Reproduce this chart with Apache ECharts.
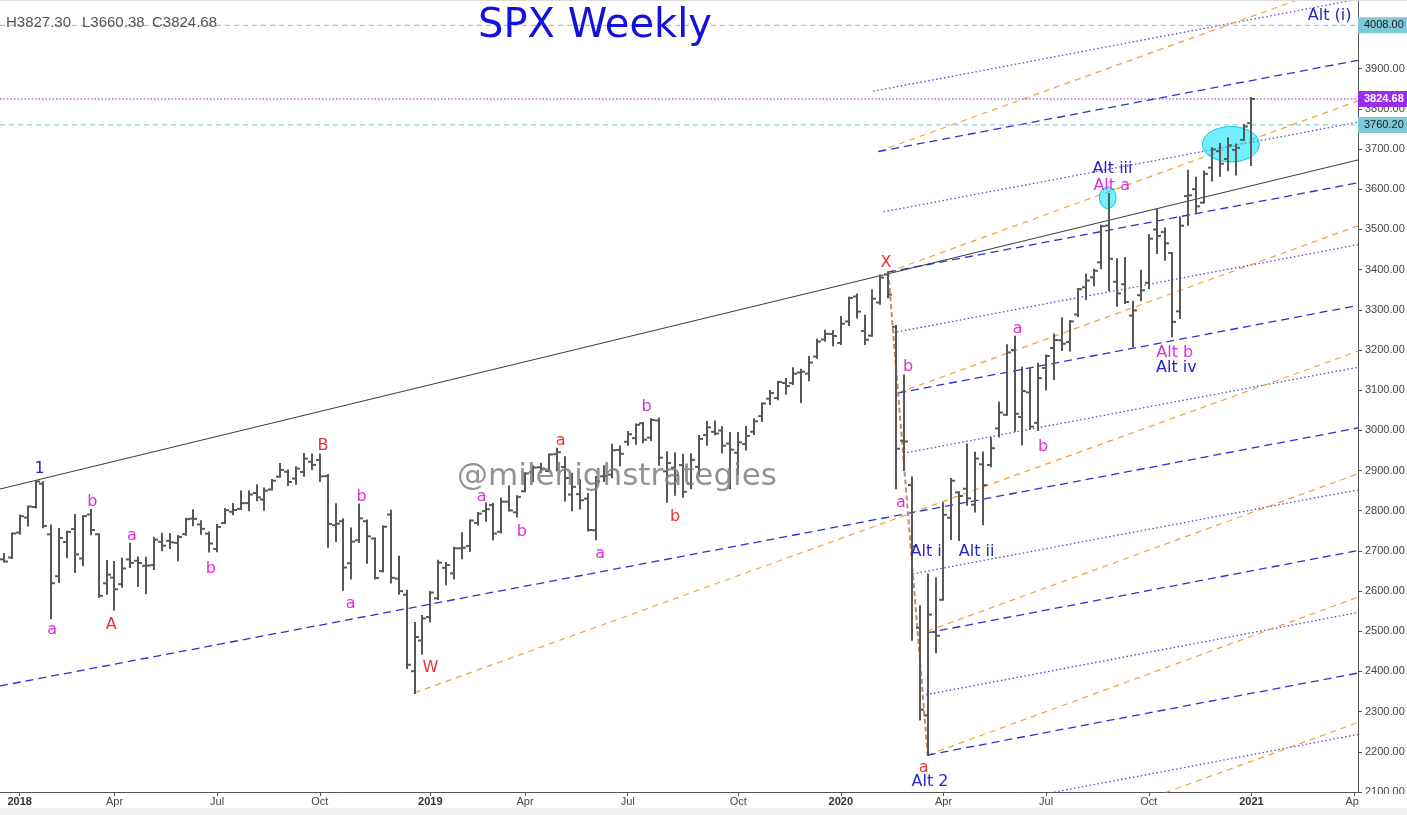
<!DOCTYPE html>
<html><head><meta charset="utf-8">
<script src="https://cdn.jsdelivr.net/npm/echarts@6/dist/echarts.min.js"></script>
<style>html,body{margin:0;padding:0;background:#fff}#c{width:1407px;height:815px}</style>
</head><body><div id="c"></div><script>
// ---------- DATA ----------
const firstWeek = '2017-12-25';   // first category (weekly bars, Monday dates)
const totalWeeks = 172;           // categories on the axis (through 2021-04-05)
const tickDates = ['2018-01-08','2018-04-02','2018-07-02','2018-10-01','2019-01-07','2019-04-01','2019-07-01','2019-10-07','2020-01-06','2020-04-06','2020-07-06','2020-10-05','2021-01-04','2021-04-05'];
const tickTexts = ['2018','Apr','Jul','Oct','2019','Apr','Jul','Oct','2020','Apr','Jul','Oct','2021','Apr'];

const open = [2679.0,
2683.7,2745.6,2783.0,2809.2,2867.2,2741.1,2636.8,2722.0,2754.3,2681.1,2790.5,2741.4,2619.4,2633.5,2617.2,2678.8,2675.4,2663.0,2664.4,2722.7,2725.0,2720.0,2741.7,2780.2,2765.8,2742.9,2704.9,2769.2,2797.4,2804.6,2819.0,2844.1,2827.9,2853.0,2884.7,2896.9,2880.0,2896.5,2921.8,2926.3,2886.0,2763.8,2773.9,2669.3,2726.4,2773.9,2730.7,2649.9,2790.5,2630.9,2590.8,2400.6,2476.9,
2535.6,2582.1,2657.9,2644.0,2706.5,2712.4,2769.3,2799.0,2814.4,2747.6,2822.6,2796.0,2848.6,2896.0,2908.3,2898.8,2940.6,2908.9,2840.2,2841.4,2830.0,2751.5,2885.8,2889.8,2951.4,2971.4,2980.8,3017.8,2981.9,3024.5,2898.1,2907.1,2913.5,2866.7,2909.0,2988.4,2996.4,2999.6,2967.1,2944.2,2965.8,2996.5,3035.4,3078.9,3080.3,3117.9,3117.4,3143.9,3141.2,3183.6,3226.1,3240.1,
3217.6,3271.1,3333.1,3247.2,3235.7,3318.3,3388.0,3257.6,2974.3,2863.9,2508.6,2290.7,2498.1,2578.3,2782.5,2845.6,2854.7,2815.0,2915.5,2913.9,3005.0,3038.8,3199.9,3033.3,3094.4,3018.6,3155.3,3205.1,3224.3,3219.8,3288.3,3356.0,3380.9,3418.1,3509.7,3369.8,3363.6,3285.6,3336.3,3367.3,3500.0,3493.5,3441.4,3296.2,3583.0,3600.2,3566.8,3653.8,3694.7,3675.3,3698.1,3723.0,
3764.61];
const high = [2692.1,
2743.2,2787.9,2810.3,2872.9,2870.6,2763.4,2754.4,2747.8,2789.2,2786.6,2801.9,2741.4,2674.8,2672.1,2680.3,2717.5,2683.6,2682.9,2732.9,2743.0,2742.1,2736.9,2779.9,2801.0,2774.0,2746.1,2764.4,2804.5,2816.8,2848.0,2848.0,2863.4,2855.0,2876.2,2916.5,2900.2,2908.3,2940.9,2939.9,2939.9,2889.0,2816.0,2779.0,2756.0,2815.2,2775.9,2730.7,2760.9,2800.2,2685.4,2601.1,2520.3,2538.1,
2597.8,2675.5,2670.0,2708.0,2744.0,2775.7,2794.2,2818.0,2816.9,2830.7,2860.3,2836.0,2893.4,2910.5,2917.0,2940.0,2954.1,2932.8,2892.2,2876.0,2841.4,2884.0,2910.6,2964.2,2960.0,2995.8,3014.3,3018.0,3027.9,3029.2,2945.5,2943.3,2939.1,2940.4,2985.9,3021.0,3022.0,3007.8,2993.3,2993.3,3008.3,3027.4,3066.9,3097.8,3120.5,3127.6,3154.3,3150.6,3182.7,3225.6,3247.9,3247.0,
3282.0,3329.9,3338.0,3285.0,3347.9,3385.1,3393.5,3259.8,3136.7,2882.6,2562.0,2641.4,2631.1,2818.6,2879.2,2846.0,2965.0,2944.3,2945.0,2980.3,3068.7,3211.7,3233.1,3155.5,3155.0,3165.8,3186.0,3238.3,3279.3,3272.0,3352.0,3387.9,3399.5,3509.4,3588.1,3425.6,3428.9,3320.3,3397.2,3486.2,3550.5,3502.4,3441.4,3529.9,3645.9,3628.5,3644.3,3701.9,3712.4,3726.7,3711.2,3760.20,
3827.30];
const low = [2673.6,
2682.4,2742.7,2763.0,2808.1,2759.1,2532.7,2622.5,2684.0,2647.3,2664.6,2741.4,2585.9,2593.1,2553.8,2610.8,2660.0,2612.7,2594.6,2655.2,2701.9,2707.4,2676.8,2740.0,2764.0,2742.9,2698.7,2698.9,2769.2,2791.5,2804.0,2801.0,2825.8,2802.5,2853.0,2884.7,2864.1,2867.3,2886.9,2903.3,2874.0,2710.5,2724.0,2603.5,2631.5,2722.0,2670.8,2631.1,2649.0,2621.5,2593.5,2408.6,2346.6,2443.9,
2524.6,2580.3,2617.3,2631.5,2681.8,2699.6,2766.0,2775.0,2728.8,2746.0,2800.7,2785.7,2848.6,2873.3,2896.5,2898.0,2900.5,2825.4,2801.4,2805.5,2750.5,2728.8,2873.9,2883.0,2913.0,2964.0,2966.4,2970.1,2976.3,2914.1,2822.1,2840.0,2834.9,2856.0,2891.1,2964.2,2990.0,2945.5,2855.9,2891.6,2952.3,2990.9,3023.2,3065.9,3077.6,3090.8,3115.4,3070.3,3124.6,3180.9,3223.0,3212.0,
3214.6,3262.0,3280.6,3214.6,3235.7,3315.1,3331.0,2855.8,2901.5,2478.9,2280.5,2191.9,2447.5,2578.3,2729.4,2727.1,2815.1,2797.9,2766.6,2910.4,2984.6,3038.8,2999.0,2965.7,3004.0,3001.0,3101.7,3127.7,3200.0,3198.6,3284.5,3327.2,3361.4,3403.3,3349.6,3310.0,3317.0,3209.5,3323.7,3354.5,3441.4,3424.3,3233.9,3279.7,3511.9,3543.8,3566.8,3622.1,3633.4,3647.5,3636.5,3723.0,
3660.38];
const close = [2673.6,
2743.2,2786.2,2810.3,2872.9,2762.1,2619.6,2732.2,2747.3,2691.3,2786.6,2752.0,2588.3,2640.9,2604.5,2656.3,2670.1,2669.9,2663.4,2728.0,2712.9,2721.3,2734.6,2779.0,2779.7,2754.9,2718.4,2759.8,2801.3,2801.8,2818.8,2840.4,2833.3,2850.1,2874.7,2901.5,2871.7,2904.9,2929.7,2914.0,2885.6,2767.1,2767.8,2658.7,2723.1,2781.0,2736.3,2632.6,2760.2,2633.1,2599.9,2416.6,2485.7,2532.0,
2596.3,2670.7,2664.8,2706.5,2707.9,2775.6,2792.7,2803.7,2743.1,2822.5,2800.7,2834.4,2892.7,2907.4,2905.0,2939.9,2945.6,2881.4,2859.5,2826.1,2752.1,2873.3,2886.9,2950.5,2941.8,2990.4,3013.8,2976.6,3025.9,2932.1,2918.7,2888.7,2847.1,2926.5,2978.7,3007.4,2992.1,2961.8,2952.0,2970.3,2986.2,3022.6,3066.9,3093.1,3120.5,3110.3,3141.0,3145.9,3168.8,3221.2,3240.0,3234.9,
3265.4,3329.6,3295.5,3225.5,3327.7,3380.2,3337.8,2954.2,2972.4,2711.0,2304.9,2541.5,2488.7,2789.8,2874.6,2836.7,2830.7,2929.8,2863.7,2955.5,3044.3,3193.9,3041.3,3097.7,3009.1,3130.0,3185.0,3224.7,3215.6,3271.1,3351.3,3372.9,3397.2,3508.0,3426.9,3340.9,3319.5,3298.5,3348.4,3477.1,3483.8,3465.4,3270.0,3509.4,3585.2,3557.5,3638.4,3699.1,3663.5,3709.4,3703.1,3756.1,
3824.68];

const levelTop = 4008.00;          // horizontal level (Alt (i))
// trend lines: [weekIndex, value] end points
const blackTrend = [[-0.5, 2854], [171.5, 3673]];
const brownTrend = [[112, 3393.5], [117, 2191.9]];
const blueDashed = [
  [[110.75, 3694], [171.5, 3921]], [[112, 3394], [171.5, 3616]], [[113.25, 3093], [171.5, 3311]],
  [[-0.5, 2364], [171.5, 3006]], [[116.9, 2496], [171.5, 2701]], [[117, 2192], [171.5, 2396]]];
const orangeDashed = [
  [[110.75, 3694], [171.5, 4126]], [[112, 3394], [171.5, 3820]], [[113.25, 3093], [171.5, 3509]],
  [[52, 2346.6], [171.5, 3197]], [[116.9, 2500], [171.5, 2892]], [[117, 2192], [171.5, 2585]],
  [[118.25, 1892], [171.5, 2273]]];
const blueDotted = [
  [[110.1, 3844], [171.5, 4073]], [[111.4, 3544], [171.5, 3767]], [[112.6, 3243], [171.5, 3462]],
  [[113.9, 2943], [171.5, 3157]], [[115.1, 2643], [171.5, 2852]], [[116.8, 2342], [171.5, 2547]],
  [[117.6, 2042], [171.5, 2243]]];
// highlight ellipses: [centerWeek, centerValue, radiusWeeks, radiusValue]
const ellipses = [[139.8, 3579, 1.05, 27], [155.4, 3712, 3.6, 44]];
// wave labels: [text, weekIndex, value, kind]
const waveLabels = [
  ['1', 4.5, 2904, 'blue'], ['a', 6.1, 2503, 'mag'], ['b', 11.2, 2823, 'mag'], ['A', 13.6, 2516, 'red'],
  ['a', 16.2, 2737, 'mag'], ['b', 26.2, 2655, 'mag'], ['B', 40.4, 2961, 'red'], ['b', 45.3, 2835, 'mag'],
  ['a', 43.9, 2568, 'mag'], ['W', 54.0, 2409, 'red'], ['a', 60.5, 2835, 'mag'], ['b', 65.6, 2748, 'mag'],
  ['a', 70.5, 2974, 'red'], ['b', 81.4, 3059, 'mag'], ['a', 75.5, 2693, 'mag'], ['b', 85.0, 2785, 'red'],
  ['X', 111.7, 3417, 'red'], ['b', 114.5, 3158, 'mag'], ['a', 113.6, 2819, 'mag'],
  ['Alt i', 116.8, 2698, 'blue'], ['Alt ii', 123.2, 2698, 'blue'], ['a', 116.5, 2160, 'red'],
  ['Alt 2', 117.3, 2126, 'blue'], ['a', 128.4, 3252, 'mag'], ['b', 131.6, 2960, 'mag'],
  ['Alt iii', 140.4, 3650, 'blue'], ['Alt a', 140.3, 3608, 'mag'], ['Alt b', 148.3, 3193, 'mag'],
  ['Alt iv', 148.5, 3155, 'blue'], ['Alt (i)', 167.9, 4031, 'blue']];

// ---------- BUILD ----------
const categories = [];
const t0 = Date.parse(firstWeek + 'T00:00:00Z');
for (let i = 0; i < totalWeeks; i++) categories.push(new Date(t0 + i * 7 * 864e5).toISOString().slice(0, 10));
const tickMap = {};
tickDates.forEach((d, i) => tickMap[d] = tickTexts[i]);
const ohlc = open.map((o, i) => [i, o, high[i], low[i], close[i]]);
const last = ohlc.length - 1;
const kindColor = {blue: '#2626cc', mag: '#e02fe0', red: '#e8323a'};
const xMin = -0.5, xMax = totalWeeks - 0.5;

function seg(pts, color, width, type, z) {
  return {type: 'line', xAxisIndex: 1, yAxisIndex: 0, data: pts, symbol: 'none', silent: true,
    animation: false, clip: true, z: z || 2, lineStyle: {color: color, width: width, type: type, opacity: 1}};
}
function level(value, lineColor, lineType, boxColor, textColor, bold) {
  const s = seg([[xMin, value], [xMax, value]], lineColor, 1, lineType, 3);
  s.markPoint = {symbol: 'rect', symbolSize: 0, silent: true, animation: false,
    label: {show: true, position: 'right', distance: 0, formatter: value.toFixed(2), backgroundColor: boxColor,
      color: textColor, fontWeight: bold ? 'bold' : 'normal', fontSize: 11, fontFamily: 'Liberation Sans',
      padding: [3, 6, 2, 6]},
    data: [{coord: [xMax, value]}]};
  return s;
}
const series = [];
blueDotted.forEach(p => series.push(seg(p, '#5a48d6', 1.3, [1.5, 2.5])));
orangeDashed.forEach(p => series.push(seg(p, '#f0a23a', 1.2, [6, 5])));
blueDashed.forEach(p => series.push(seg(p, '#3030d0', 1.3, [8, 5])));
series.push(seg(blackTrend, '#3a3a3a', 1, 'solid'));
series.push(seg(brownTrend, '#b8906a', 2, [5, 3], 4));

// horizontal levels
series.push(level(levelTop, '#7cc0d4', [5, 4], '#7ecad8', '#1a1a1a', false));
series.push(level(high[last - 1], '#7cc0d4', [5, 4], '#7ecad8', '#1a1a1a', false));
series.push(level(close[last], '#8e1ee6', [1.5, 2], '#9a2cf0', '#ffffff', true));

// ellipses
series.push({type: 'custom', xAxisIndex: 1, yAxisIndex: 0, data: ellipses, silent: true, animation: false, z: 3,
  renderItem: (p, api) => {
    const c = api.coord([api.value(0), api.value(1)]);
    const s = api.size([api.value(2), api.value(3)]);
    return {type: 'ellipse', shape: {cx: c[0], cy: c[1], rx: s[0], ry: s[1]},
      style: {fill: 'rgba(0,228,255,0.55)', stroke: 'rgba(0,190,215,0.9)', lineWidth: 1}};
  }});

// OHLC bars
series.push({type: 'custom', xAxisIndex: 1, yAxisIndex: 0, data: ohlc, silent: true, animation: false, z: 5,
  encode: {x: 0, y: [1, 2, 3, 4]},
  renderItem: (p, api) => {
    const x = api.value(0);
    const ph = api.coord([x, api.value(2)]), pl = api.coord([x, api.value(3)]);
    const po = api.coord([x, api.value(1)]), pc = api.coord([x, api.value(4)]);
    const half = api.size([1, 0])[0] * 0.5;
    const cx = Math.round(ph[0]);
    const st = {stroke: '#585858', lineWidth: 2};
    return {type: 'group', children: [
      {type: 'line', shape: {x1: cx, y1: ph[1] - 1, x2: cx, y2: pl[1] + 1}, style: st},
      {type: 'line', shape: {x1: cx - half, y1: po[1], x2: cx, y2: po[1]}, style: st},
      {type: 'line', shape: {x1: cx, y1: pc[1], x2: cx + half, y2: pc[1]}, style: st}]};
  }});

// wave labels
series.push({type: 'custom', xAxisIndex: 1, yAxisIndex: 0, silent: true, animation: false, z: 6,
  data: waveLabels.map(w => [w[1], w[2]]),
  renderItem: (p, api) => {
    const w = waveLabels[p.dataIndex];
    const c = api.coord([api.value(0), api.value(1)]);
    return {type: 'text', x: c[0], y: c[1], style: {text: w[0], fill: kindColor[w[3]],
      font: '16px "DejaVu Sans"', align: 'center', verticalAlign: 'middle'}};
  }});

const option = {
  animation: false,
  backgroundColor: '#ffffff',
  grid: {left: 0, right: 49, top: 0, bottom: 23, containLabel: false, outerBoundsMode: 'none'},
  xAxis: [
    {type: 'category', data: categories, boundaryGap: true, position: 'bottom',
      axisLine: {show: true, onZero: false, lineStyle: {color: '#555', width: 1}},
      axisTick: {show: true, length: 4, alignWithLabel: true, interval: (i, v) => v in tickMap, lineStyle: {color: '#555'}},
      axisLabel: {show: true, margin: 4, interval: (i, v) => v in tickMap,
        formatter: v => { const t = tickMap[v] || ''; return /^\d/.test(t) ? '{y|' + t + '}' : '{m|' + t + '}'; },
        rich: {y: {fontWeight: 'bold', fontSize: 11, color: '#333', fontFamily: 'Liberation Sans'},
               m: {fontSize: 11, color: '#444', fontFamily: 'Liberation Sans'}}},
      splitLine: {show: false}},
    {type: 'value', min: xMin, max: xMax, show: false, axisLine: {onZero: false}, splitLine: {show: false}}
  ],
  yAxis: [{type: 'value', position: 'right', min: 2100, max: 4071, interval: 100, scale: false,
    axisLine: {show: true, onZero: false, lineStyle: {color: '#555', width: 1}},
    axisTick: {show: true, length: 4, lineStyle: {color: '#555'}},
    splitLine: {show: false},
    axisLabel: {show: true, margin: 7, color: '#444', fontSize: 11, fontFamily: 'Liberation Sans',
      formatter: v => (Math.abs(v % 100) < 1e-6 && v <= 3900) ? v.toFixed(2) : ''}}],
  graphic: [
    {type: 'rect', z: 100, silent: true, shape: {x: 0, y: 0, width: 1407, height: 1}, style: {fill: '#dcdcdc'}},
    {type: 'rect', z: 100, silent: true, shape: {x: 1359, y: 794, width: 48, height: 14}, style: {fill: '#ffffff'}},
    {type: 'rect', z: 100, silent: true, shape: {x: 0, y: 808, width: 1407, height: 7}, style: {fill: '#efefef'}},
    {type: 'text', z: 100, silent: true, x: 595, y: 27,
      style: {text: 'SPX Weekly', fill: '#1212dc', font: '40px "DejaVu Sans"', align: 'center', verticalAlign: 'middle'}},
    {type: 'text', z: 100, silent: true, x: 617, y: 477,
      style: {text: '@milehighstrategies', fill: 'rgba(128,128,128,0.85)', font: '31px "DejaVu Sans"', align: 'center', verticalAlign: 'middle'}},
    {type: 'text', z: 100, silent: true, x: 6, y: 23,
      style: {text: 'H' + high[last].toFixed(2), fill: '#555', font: '15px "Liberation Sans"', verticalAlign: 'middle'}},
    {type: 'text', z: 100, silent: true, x: 82, y: 23,
      style: {text: 'L' + low[last].toFixed(2), fill: '#555', font: '15px "Liberation Sans"', verticalAlign: 'middle'}},
    {type: 'text', z: 100, silent: true, x: 152, y: 23,
      style: {text: 'C' + close[last].toFixed(2), fill: '#555', font: '15px "Liberation Sans"', verticalAlign: 'middle'}}
  ],
  series: series
};
const chart = echarts.init(document.getElementById('c'));
chart.setOption(option);
</script></body></html>
